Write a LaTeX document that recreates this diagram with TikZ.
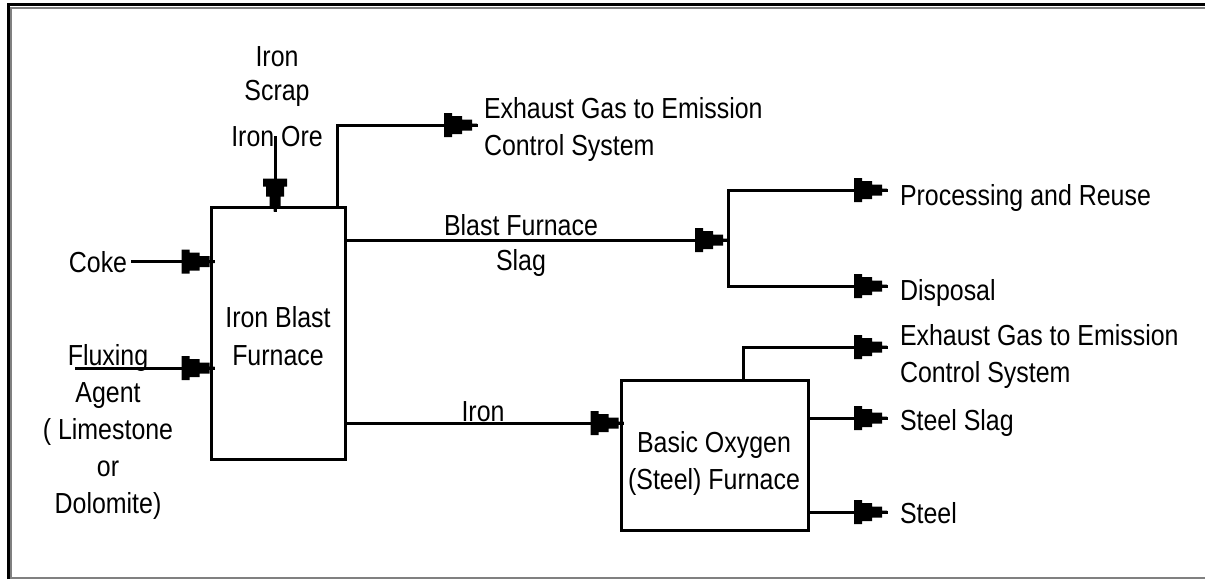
\documentclass[tikz,border=0pt]{standalone}
\usepackage{fontspec}
\setmainfont{Liberation Sans}[FakeStretch=0.86]
\usetikzlibrary{calc}

\pgfdeclarearrow{
  name = Plug,
  setup code = {
    \pgfarrowssettipend{0pt}
    \pgfarrowssetlineend{-1pt}
    \pgfarrowssetvisualbackend{-33pt}
    \pgfarrowssetbackend{-33pt}
    \pgfarrowshullpoint{0pt}{1.5pt}
    \pgfarrowshullpoint{0pt}{-1.5pt}
    \pgfarrowshullpoint{-33pt}{12pt}
    \pgfarrowshullpoint{-33pt}{-12pt}
  },
  drawing code = {
    \pgfpathmoveto{\pgfqpoint{-33pt}{12pt}}
    \pgfpathlineto{\pgfqpoint{-25pt}{12pt}}
    \pgfpathlineto{\pgfqpoint{-25pt}{9pt}}
    \pgfpathlineto{\pgfqpoint{-15pt}{9pt}}
    \pgfpathlineto{\pgfqpoint{-15pt}{5.5pt}}
    \pgfpathlineto{\pgfqpoint{-5pt}{5.5pt}}
    \pgfpathlineto{\pgfqpoint{-5pt}{1.5pt}}
    \pgfpathlineto{\pgfqpoint{0pt}{1.5pt}}
    \pgfpathlineto{\pgfqpoint{0pt}{-1.5pt}}
    \pgfpathlineto{\pgfqpoint{-5pt}{-1.5pt}}
    \pgfpathlineto{\pgfqpoint{-5pt}{-5.5pt}}
    \pgfpathlineto{\pgfqpoint{-15pt}{-5.5pt}}
    \pgfpathlineto{\pgfqpoint{-15pt}{-9pt}}
    \pgfpathlineto{\pgfqpoint{-25pt}{-9pt}}
    \pgfpathlineto{\pgfqpoint{-25pt}{-12pt}}
    \pgfpathlineto{\pgfqpoint{-33pt}{-12pt}}
    \pgfpathclose
    \pgfusepathqfill
  },
}

\definecolor{framegray}{RGB}{128,128,128}

\tikzset{
  line/.style={line width=3pt, line join=miter, line cap=rect},
  flow/.style={line, -Plug},
  box/.style={draw, line width=3pt, inner sep=0pt, outer sep=0pt},
  lbl/.style={inner sep=0pt, outer sep=0pt, font=\fontsize{29}{37}\selectfont},
}

\begin{document}
\begin{tikzpicture}[x=1pt, y=-1pt]
\useasboundingbox (0,0) rectangle (1205,579);

% frame
\draw[line width=3pt] (8.5,579) -- (8.5,4.5) -- (1205,4.5);
\draw[framegray, line width=2pt] (11,577) -- (11,8) -- (1205,8);
\draw[framegray, line width=2pt] (10,577.5) -- (1205,577.5);

% boxes (multi-line labels are placed by the baseline of their last line)
\node[box, minimum width=133.5pt, minimum height=251.5pt] (bf) at (278.3,333.3) {};
\node[lbl, align=center, anchor=base, font=\fontsize{29}{38}\selectfont] (bf-label) at (278,365) {Iron Blast\\Furnace};
\node[box, minimum width=187pt, minimum height=150pt] (bof) at (715,455) {};
\node[lbl, align=center, anchor=base] (bof-label) at (714,489) {Basic Oxygen\\(Steel) Furnace};

% labels
\node[lbl, align=center, anchor=base, font=\fontsize{29}{34}\selectfont] (scrap) at (277,100) {Iron\\Scrap};
\node[lbl, anchor=base] (ore) at (277,146) {Iron Ore};
\node[lbl, anchor=base] (coke) at (98,272) {Coke};
\node[lbl, align=center, anchor=base] (flux) at (108,513) {Fluxing\\Agent\\( Limestone\\or\\Dolomite)};
\node[lbl, align=left, anchor=base west] (exh1) at (484,155) {Exhaust Gas to Emission\\Control System};
\node[lbl, align=center, anchor=base, font=\fontsize{29}{35}\selectfont] (bfs) at (521,270) {Blast Furnace\\Slag};
\node[lbl, anchor=base west] (proc) at (900,205) {Processing and Reuse};
\node[lbl, anchor=base west] (disp) at (900,300) {Disposal};
\node[lbl, align=left, anchor=base west] (exh2) at (900,382) {Exhaust Gas to Emission\\Control System};
\node[lbl, anchor=base west] (sslag) at (900,430) {Steel Slag};
\node[lbl, anchor=base west] (steel) at (900,523) {Steel};
\node[lbl, anchor=base] (iron) at (483,421) {Iron};

% inputs
\coordinate (ore-start) at (275,137);
\draw[flow, shorten >=-4pt] (ore-start) -- (ore-start |- bf.north);
\draw[flow, shorten >=-3pt] ([xshift=5pt]coke.east) -- (coke.east -| bf.west);
\coordinate (flux-start) at (76,368);
\draw[flow, shorten >=-3pt] (flux-start) -- (flux-start -| bf.west);

% blast furnace outputs
\coordinate (ex1-out) at ($(bf.north east)+(-8,0)$);
\coordinate (ex1-tip) at (477,125);
\draw[flow] (ex1-out) |- (ex1-tip);

\coordinate (bus-mid) at (728,240);
\coordinate (bus-top) at (728,190);
\coordinate (proc-tip) at (887,190);
\coordinate (disp-tip) at (887,286);
\draw[flow] (bus-mid -| bf.east) -- (bus-mid);
\draw[flow] (bus-top) |- (disp-tip);
\draw[flow] (bus-top) -- (proc-tip);

\coordinate (iron-y) at (0,423);
\draw[flow, shorten >=-2pt] (bf.east |- iron-y) -- (bof.west |- iron-y);

% BOF outputs
\coordinate (ex2-out) at ($(bof.north west)+(121.5,0)$);
\coordinate (ex2-tip) at (887,347);
\draw[flow] (ex2-out) |- (ex2-tip);
\coordinate (slag-tip) at (887,418);
\draw[flow] (slag-tip -| bof.east) -- (slag-tip);
\coordinate (steel-tip) at (887,512);
\draw[flow] (steel-tip -| bof.east) -- (steel-tip);
\end{tikzpicture}
\end{document}
